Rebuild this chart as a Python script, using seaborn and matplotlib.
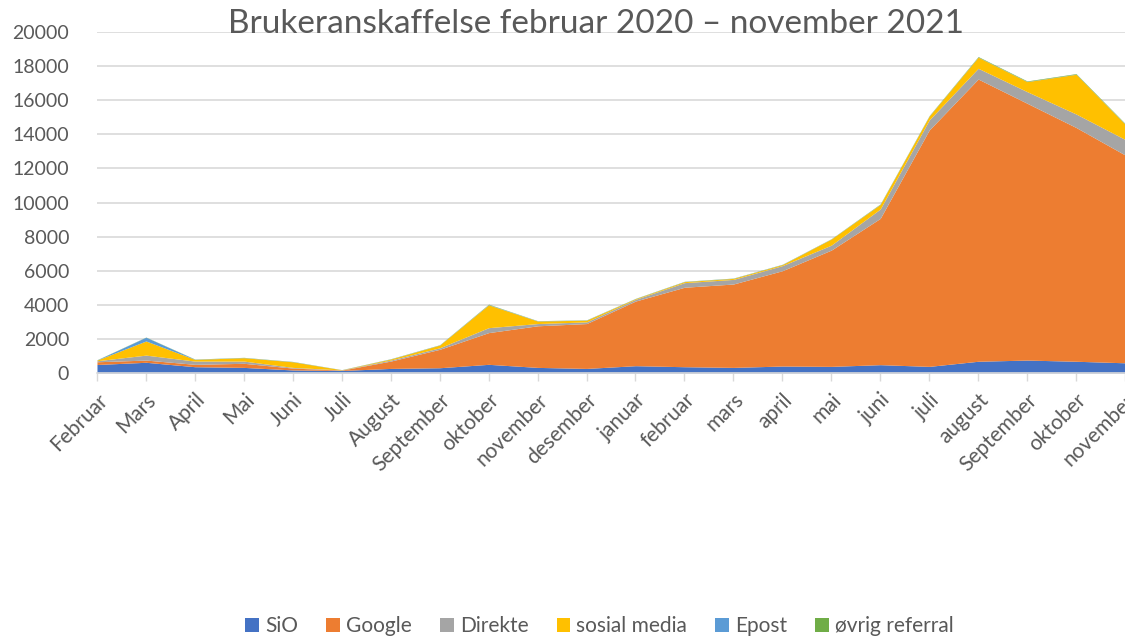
import matplotlib
matplotlib.use("Agg")
import matplotlib.pyplot as plt
import seaborn as sns
from matplotlib.patches import Patch

months = ["Februar", "Mars", "April", "Mai", "Juni", "Juli", "August", "September",
          "oktober", "november", "desember", "januar", "februar", "mars", "april",
          "mai", "juni", "juli", "august", "September", "oktober", "november"]

sio = [500, 630, 370, 330, 180, 150, 270, 310, 510, 330, 270, 430, 370, 330, 410,
       390, 490, 390, 690, 760, 690, 600]
google = [160, 130, 140, 240, 110, 20, 430, 1080, 1860, 2440, 2630, 3790, 4660, 4890,
          5590, 6820, 8580, 13860, 16550, 15060, 13710, 12190]
direkte = [60, 290, 190, 130, 40, 10, 60, 90, 290, 130, 100, 100, 270, 270, 300, 290,
           550, 590, 630, 680, 790, 910]
sosial = [40, 830, 100, 200, 330, 10, 60, 160, 1340, 150, 100, 40, 60, 60, 60, 360,
          270, 230, 650, 590, 2330, 900]
epost = [10, 220, 10, 10, 10, 5, 10, 10, 20, 10, 10, 10, 10, 10, 10, 10, 10, 10, 10,
         10, 10, 10]
ovrig = [10, 10, 10, 10, 10, 5, 10, 10, 20, 10, 10, 10, 10, 10, 10, 10, 20, 20, 30,
         30, 30, 30]

names = ["SiO", "Google", "Direkte", "sosial media", "Epost", "øvrig referral"]
colors = ["#4472C4", "#ED7D31", "#A5A5A5", "#FFC000", "#5B9BD5", "#70AD47"]

sns.set_theme(style="white")
plt.rcParams["font.family"] = ["Lato", "DejaVu Sans"]

fig = plt.figure(figsize=(11.25, 6.37), dpi=100)
ax = fig.add_axes([0.0862, 0.4144, 0.9138, 0.5354])

x = list(range(len(months)))
ax.stackplot(x, sio, google, direkte, sosial, epost, ovrig, colors=colors,
             linewidth=0, zorder=2)

ax.set_xlim(0, len(months) - 1)
ax.set_ylim(0, 20000)
ax.set_yticks(range(0, 20001, 2000))
ax.yaxis.grid(True, color="#D9D9D9", linewidth=1.2, zorder=0)
ax.set_xticks(x)
ax.set_xticklabels(months, rotation=45, ha="right", rotation_mode="anchor",
                   color="#595959", fontsize=15)
ax.tick_params(axis="y", labelsize=14, labelcolor="#595959", length=0, pad=20)
ax.tick_params(axis="x", length=6, width=1, color="#D9D9D9", direction="out",
               bottom=True, pad=6)
for side in ["top", "right", "left"]:
    ax.spines[side].set_visible(False)
ax.spines["bottom"].set_color("#D9D9D9")
ax.spines["bottom"].set_linewidth(1.2)
ax.spines["bottom"].set_zorder(3)

fig.text(0.53, 0.963, "Brukeranskaffelse februar 2020 – november 2021",
         ha="center", va="center", fontsize=24, color="#595959")

handles = [Patch(facecolor=c, edgecolor="none", label=n) for c, n in zip(colors, names)]
fig.legend(handles=handles, loc="lower center", bbox_to_anchor=(0.533, -0.028), ncol=6,
           frameon=False, fontsize=15, handlelength=0.65, handleheight=0.65,
           handletextpad=0.3, columnspacing=1.35, labelcolor="#595959")

fig.savefig("out.png", dpi=100)
